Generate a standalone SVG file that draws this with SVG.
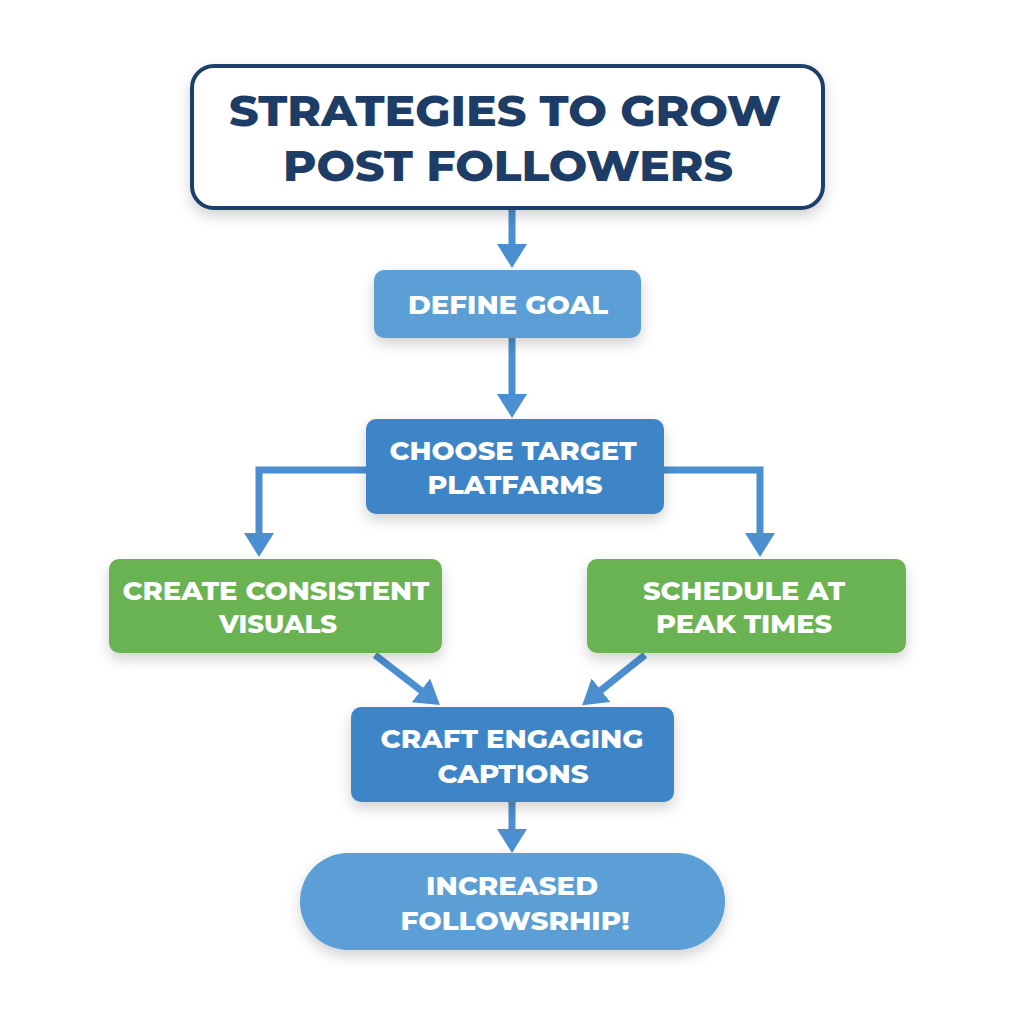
<svg xmlns="http://www.w3.org/2000/svg" width="1024" height="1024" viewBox="0 0 1024 1024">
<defs>
<filter id="sh" x="-20%" y="-20%" width="140%" height="160%">
<feDropShadow dx="0" dy="6" stdDeviation="7" flood-color="#000" flood-opacity="0.18"/>
</filter>
<marker id="ah" viewBox="0 0 24 30" refX="14" refY="15" markerWidth="24" markerHeight="30" orient="auto" markerUnits="userSpaceOnUse">
<path d="M0,0 L24,15 L0,30 z" fill="#4b8fd0"/>
</marker>
<style>
.t{font-family:"Montserrat","Open Sans","Liberation Sans",sans-serif;font-weight:800;fill:#fff;text-anchor:middle;font-size:26px}
.title{font-family:"Montserrat","Open Sans","Liberation Sans",sans-serif;font-weight:800;fill:#1d3d66;text-anchor:middle;font-size:44px}
.c{fill:none;stroke:#4b8fd0;stroke-width:7;stroke-linejoin:miter}
.light{fill:#5b9fd6}
.dark{fill:#3e85c6}
.green{fill:#6ab353}
</style>
</defs>
<rect width="1024" height="1024" fill="#fff"/>
<g id="connectors">
<path class="c" d="M512,208 V258" marker-end="url(#ah)"/>
<path class="c" d="M512,338 V408" marker-end="url(#ah)"/>
<path class="c" d="M366,470 H259 V547" marker-end="url(#ah)"/>
<path class="c" d="M664,470 H760 V547" marker-end="url(#ah)"/>
<path class="c" d="M375,655 L432,699" marker-end="url(#ah)"/>
<path class="c" d="M645,655 L590,699" marker-end="url(#ah)"/>
<path class="c" d="M512,802 V843" marker-end="url(#ah)"/>
</g>
<g id="title">
<rect x="192" y="66" width="631" height="142" rx="22" fill="#fff" stroke="#1c3f6b" stroke-width="4" filter="url(#sh)"/>
<text class="title" x="505" y="126" textLength="552" lengthAdjust="spacingAndGlyphs">STRATEGIES TO GROW</text>
<text class="title" x="508" y="181" textLength="450" lengthAdjust="spacingAndGlyphs">POST FOLLOWERS</text>
</g>
<g id="define">
<rect class="light" x="374" y="270" width="267" height="68" rx="10" filter="url(#sh)"/>
<text class="t" x="508" y="314" textLength="200" lengthAdjust="spacingAndGlyphs">DEFINE GOAL</text>
</g>
<g id="choose">
<rect class="dark" x="366" y="419" width="298" height="95" rx="10" filter="url(#sh)"/>
<text class="t" x="513" y="460" textLength="247" lengthAdjust="spacingAndGlyphs">CHOOSE TARGET</text>
<text class="t" x="515" y="494" textLength="175" lengthAdjust="spacingAndGlyphs">PLATFARMS</text>
</g>
<g id="visuals">
<rect class="green" x="109" y="559" width="333" height="94" rx="10" filter="url(#sh)"/>
<text class="t" x="276" y="600" textLength="307" lengthAdjust="spacingAndGlyphs">CREATE CONSISTENT</text>
<text class="t" x="278" y="633" textLength="118" lengthAdjust="spacingAndGlyphs">VISUALS</text>
</g>
<g id="schedule">
<rect class="green" x="587" y="559" width="319" height="94" rx="10" filter="url(#sh)"/>
<text class="t" x="744" y="600" textLength="202" lengthAdjust="spacingAndGlyphs">SCHEDULE AT</text>
<text class="t" x="744" y="633" textLength="176" lengthAdjust="spacingAndGlyphs">PEAK TIMES</text>
</g>
<g id="craft">
<rect class="dark" x="351" y="707" width="323" height="95" rx="10" filter="url(#sh)"/>
<text class="t" x="512" y="748" textLength="263" lengthAdjust="spacingAndGlyphs">CRAFT ENGAGING</text>
<text class="t" x="513" y="783" textLength="151" lengthAdjust="spacingAndGlyphs">CAPTIONS</text>
</g>
<g id="result">
<rect class="light" x="300" y="853" width="425" height="97" rx="48" filter="url(#sh)"/>
<text class="t" x="512" y="895" textLength="172" lengthAdjust="spacingAndGlyphs">INCREASED</text>
<text class="t" x="515" y="930" textLength="229" lengthAdjust="spacingAndGlyphs">FOLLOWSRHIP!</text>
</g>
</svg>
